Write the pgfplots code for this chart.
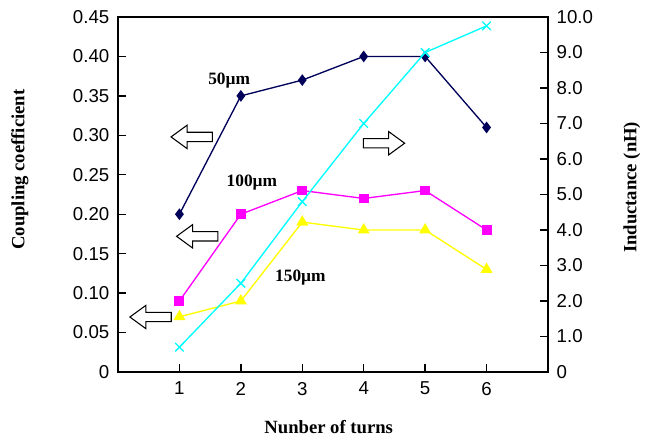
\documentclass[border=0pt]{standalone}
\usepackage{pgfplots}
\pgfplotsset{compat=1.18}
\usepackage{fontspec}
\setmainfont{Liberation Serif}
\newfontfamily\tickfont{Liberation Sans}
\definecolor{navyc}{RGB}{0,0,90}
\definecolor{magc}{RGB}{255,0,255}
\definecolor{yelc}{RGB}{255,255,0}
\definecolor{cyac}{RGB}{0,255,255}
\begin{document}
\begin{tikzpicture}[x=1pt,y=1pt]
\useasboundingbox (-88.5pt,-48.75pt) rectangle (399pt,279pt);
\begin{axis}[
  at={(0,0)}, anchor=south west, scale only axis,
  width=322.5pt, height=266.25pt,
  xmin=0, xmax=7, ymin=0, ymax=0.45,
  xtick={1,2,3,4,5,6}, xticklabels={1,2,3,4,5,6},
  ytick={0,0.05,0.1,0.15,0.2,0.25,0.3,0.35,0.4,0.45},
  yticklabels={0,0.05,0.10,0.15,0.20,0.25,0.30,0.35,0.40,0.45},
  xtick pos=left, ytick pos=left, tick align=inside,
  major tick length=6pt,
  tick style={black, line width=1pt},
  axis line style={black, line width=1.1pt},
  ticklabel style={font=\tickfont\fontsize{14}{16}\selectfont},
  yticklabel style={xshift=-3pt},
  xticklabel style={yshift=-4pt},
  xlabel={\textbf{Nunber of turns}},
  ylabel={\textbf{Coupling coefficient}},
  label style={font=\fontsize{14}{16}\selectfont},
  xlabel style={at={(axis description cs:0.49,-0.155)}, anchor=center},
  ylabel style={at={(axis description cs:-0.228,0.57)}, anchor=center},
  clip=false,
]
\addplot[navyc, line width=1pt, mark=diamond*, mark size=3.6pt, mark options={fill=navyc}]
  coordinates {(1,0.20) (2,0.35) (3,0.37) (4,0.40) (5,0.40) (6,0.31)};
\addplot[magc, line width=1pt, mark=square*, mark size=3.2pt, mark options={fill=magc}]
  coordinates {(1,0.09) (2,0.20) (3,0.23) (4,0.22) (5,0.23) (6,0.18)};
\addplot[yelc, line width=1pt, mark=triangle*, mark size=4.2pt, mark options={fill=yelc}]
  coordinates {(1,0.07) (2,0.09) (3,0.19) (4,0.18) (5,0.18) (6,0.13)};
\node[font=\bfseries\fontsize{13}{15}\selectfont] at (axis cs:1.81,0.370) {50µm};
\node[font=\bfseries\fontsize{13}{15}\selectfont] at (axis cs:2.18,0.240) {100µm};
\node[font=\bfseries\fontsize{13}{15}\selectfont] at (axis cs:2.97,0.120) {150µm};
\draw[black, line width=0.8pt, fill=white, shift={(axis cs:1.20,0.298)}]
  (-15.5pt,0pt) -- (-3.5pt,8.75pt) -- (-3.5pt,3.5pt) -- (15.5pt,3.5pt) -- (15.5pt,-3.5pt) -- (-3.5pt,-3.5pt) -- (-3.5pt,-8.75pt) -- cycle;
\draw[black, line width=0.8pt, fill=white, shift={(axis cs:1.29,0.172)}]
  (-15.5pt,0pt) -- (-3.5pt,8.75pt) -- (-3.5pt,3.5pt) -- (15.5pt,3.5pt) -- (15.5pt,-3.5pt) -- (-3.5pt,-3.5pt) -- (-3.5pt,-8.75pt) -- cycle;
\draw[black, line width=0.8pt, fill=white, shift={(axis cs:0.53,0.0697)}]
  (-15.5pt,0pt) -- (-3.5pt,8.75pt) -- (-3.5pt,3.5pt) -- (15.5pt,3.5pt) -- (15.5pt,-3.5pt) -- (-3.5pt,-3.5pt) -- (-3.5pt,-8.75pt) -- cycle;
\draw[black, line width=0.8pt, fill=white, shift={(axis cs:4.33,0.290)}]
  (15.5pt,0pt) -- (3.5pt,8.75pt) -- (3.5pt,3.5pt) -- (-15.5pt,3.5pt) -- (-15.5pt,-3.5pt) -- (3.5pt,-3.5pt) -- (3.5pt,-8.75pt) -- cycle;
\end{axis}
\begin{axis}[
  at={(0,0)}, anchor=south west, scale only axis,
  width=322.5pt, height=266.25pt,
  xmin=0, xmax=7, ymin=0, ymax=10,
  axis x line=none, axis y line*=right,
  ytick={0,1,2,3,4,5,6,7,8,9,10},
  yticklabels={0,1.0,2.0,3.0,4.0,5.0,6.0,7.0,8.0,9.0,10.0},
  tick align=inside, major tick length=6pt,
  tick style={black, line width=1pt},
  axis line style={black, line width=1.1pt},
  ticklabel style={font=\tickfont\fontsize{14}{16}\selectfont},
  yticklabel style={xshift=3pt},
  ylabel={\textbf{Inductance (nH)}},
  label style={font=\fontsize{14}{16}\selectfont},
  ylabel style={at={(axis description cs:1.195,0.52)}, anchor=center, rotate=0},
  clip=false,
]
\addplot[cyac, line width=1pt, mark=x, mark size=4.5pt, mark options={line width=1pt}]
  coordinates {(1,0.70) (2,2.5) (3,4.8) (4,7.0) (5,9.0) (6,9.75)};
\end{axis}
\end{tikzpicture}
\end{document}
